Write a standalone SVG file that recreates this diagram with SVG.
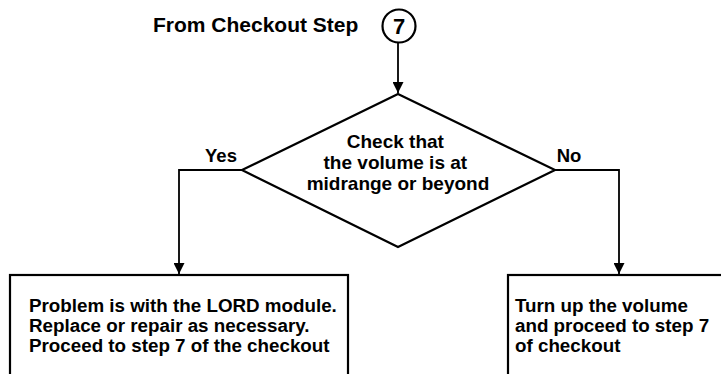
<svg xmlns="http://www.w3.org/2000/svg" width="721" height="374" viewBox="0 0 721 374">
  <defs>
    <marker id="arrow" viewBox="0 0 10 10" refX="10" refY="5" markerWidth="11" markerHeight="11" markerUnits="userSpaceOnUse" orient="auto">
      <path d="M0,0 L10,5 L0,10 Z" fill="#000"/>
    </marker>
    <style>
      .t { font-family: "Liberation Sans", Arial, sans-serif; font-weight: bold; fill: #000; }
      .shape { fill: #fff; stroke: #000; stroke-width: 2.2; }
      .edge { fill: none; stroke: #000; stroke-width: 1.8; }
    </style>
  </defs>
  <rect width="721" height="374" fill="#fff"/>

  <g id="start">
    <text class="t" x="153" y="32" font-size="21">From Checkout Step</text>
    <circle class="shape" cx="399" cy="26" r="16.5" stroke-width="1.6"/>
    <text class="t" x="399" y="34" font-size="22" text-anchor="middle">7</text>
  </g>

  <g id="decision">
    <polygon class="shape" points="398,94 555,170 398,247 242,170"/>
    <text class="t" font-size="19" text-anchor="middle">
      <tspan x="398" y="148">Check that</tspan>
      <tspan x="398" y="169">the volume is at</tspan>
      <tspan x="398" y="190">midrange or beyond</tspan>
    </text>
  </g>

  <g id="yes-box">
    <rect class="shape" x="10" y="275" width="338" height="120"/>
    <text class="t" font-size="18.8">
      <tspan x="29" y="312">Problem is with the LORD module.</tspan>
      <tspan x="29" y="332">Replace or repair as necessary.</tspan>
      <tspan x="29" y="352">Proceed to step 7 of the checkout</tspan>
    </text>
  </g>

  <g id="no-box">
    <rect class="shape" x="508" y="275" width="230" height="120"/>
    <text class="t" font-size="18.8">
      <tspan x="515" y="312">Turn up the volume</tspan>
      <tspan x="515" y="332">and proceed to step 7</tspan>
      <tspan x="515" y="352">of checkout</tspan>
    </text>
  </g>

  <g id="connectors">
    <line class="edge" x1="398" y1="42.5" x2="398" y2="93" marker-end="url(#arrow)"/>
    <polyline class="edge" points="242,170 179,170 179,274" marker-end="url(#arrow)"/>
    <polyline class="edge" points="555,170 619,170 619,274" marker-end="url(#arrow)"/>
    <text class="t" x="221" y="162" font-size="18.5" text-anchor="middle">Yes</text>
    <text class="t" x="569" y="162" font-size="18.5" text-anchor="middle">No</text>
  </g>
</svg>
